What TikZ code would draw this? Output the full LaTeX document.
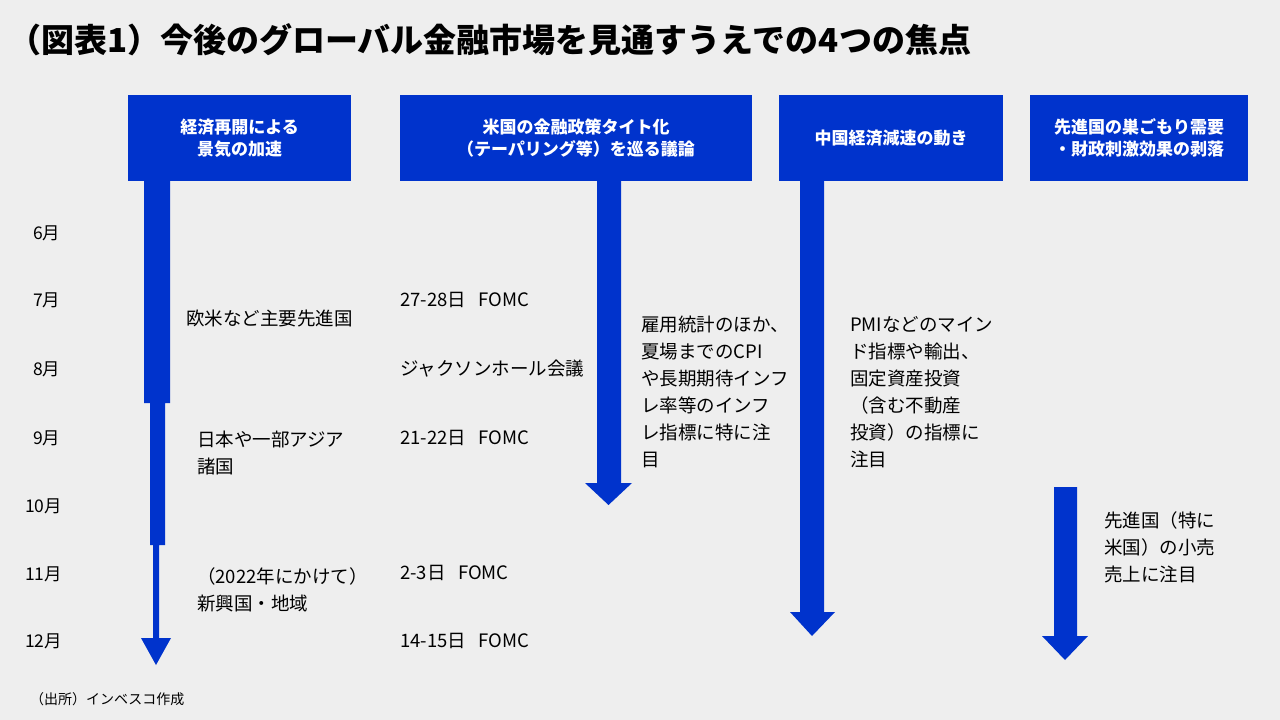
\documentclass[tikz,border=0pt]{standalone}
\usepackage{fontspec}
\setmainfont{Noto Sans CJK JP}
\definecolor{bl}{HTML}{0033CC}
\definecolor{bg}{HTML}{EEEEEE}
\begin{document}
\begin{tikzpicture}[x=1pt,y=-1pt,
 hdr/.style={fill=bl,text=white,font=\bfseries\fontsize{17}{22}\selectfont,align=center,inner sep=0},
 txt/.style={anchor=north west,align=left,font=\fontsize{18.5}{27}\selectfont,inner sep=0},
 mon/.style={anchor=west,font=\fontsize{17.5}{20}\selectfont,inner sep=0},
 ev/.style={anchor=west,font=\fontsize{18.5}{20}\selectfont,inner sep=0}]
\fill[bg] (0,0) rectangle (1280,720);
\useasboundingbox (0,0) rectangle (1280,720);
\node[anchor=west,font=\bfseries\fontsize{33}{36}\selectfont,inner sep=0] (title) at (8,40) {（図表1）今後のグローバル金融市場を見通すうえでの4つの焦点};
% headers
\node[hdr,minimum width=223,minimum height=86] (h1) at (239.5,138) {経済再開による\\景気の加速};
\node[hdr,minimum width=352,minimum height=86] (h2) at (576,138) {米国の金融政策タイト化\\（テーパリング等）を巡る議論};
\node[hdr,minimum width=224,minimum height=86] (h3) at (891,138) {中国経済減速の動き};
\node[hdr,minimum width=218,minimum height=86] (h4) at (1139,138) {先進国の巣ごもり需要\\・財政刺激効果の剥落};
% arrows
\fill[bl] (144,181) -- (170,181) -- (170,403) -- (165,403) -- (165,545) -- (159,545) -- (159,638) -- (171,638) -- (156,665) -- (141,638) -- (153,638) -- (153,545) -- (150,545) -- (150,403) -- (144,403) -- cycle;
\fill[bl] (597,181) -- (621,181) -- (621,483) -- (632,483) -- (608.5,505) -- (585,483) -- (597,483) -- cycle;
\fill[bl] (800,181) -- (824,181) -- (824,612) -- (835,612) -- (812,636) -- (790,612) -- (800,612) -- cycle;
\fill[bl] (1054,487) -- (1077,487) -- (1077,636) -- (1088,636) -- (1065,660) -- (1042,636) -- (1054,636) -- cycle;
% months
\node[mon] (m6) at (33,233) {6月};
\node[mon] (m7) at (33,300) {7月};
\node[mon] (m8) at (33,369) {8月};
\node[mon] (m9) at (33,438) {9月};
\node[mon] (m10) at (25,506) {10月};
\node[mon] (m11) at (25,574) {11月};
\node[mon] (m12) at (25,641) {12月};
% col1
\node[ev] (a1) at (186,319) {欧米など主要先進国};
\node[txt] (a2) at (197,431) {日本や一部アジア\\諸国};
\node[txt] (a3) at (197,567) {（2022年にかけて）\\新興国・地域};
% col2
\node[ev] (b1) at (400,300) {27-28日\ \ \ FOMC};
\node[ev] (b2) at (400,369) {ジャクソンホール会議};
\node[ev] (b3) at (400,438) {21-22日\ \ \ FOMC};
\node[ev] (b4) at (400,573) {2-3日\ \ \ FOMC};
\node[ev] (b5) at (400,641) {14-15日\ \ \ FOMC};
\node[txt] (c1) at (641,316) {雇用統計のほか、\\夏場までのCPI\\や長期期待インフ\\レ率等のインフ\\レ指標に特に注\\目};
\node[txt] (d1) at (850,316) {PMIなどのマイン\\ド指標や輸出、\\固定資産投資\\（含む不動産\\投資）の指標に\\注目};
\node[txt] (e1) at (1104,511) {先進国（特に\\米国）の小売\\売上に注目};
\node[anchor=west,font=\fontsize{14}{16}\selectfont,inner sep=0] (src) at (30,699) {（出所）インベスコ作成};
\end{tikzpicture}
\end{document}
